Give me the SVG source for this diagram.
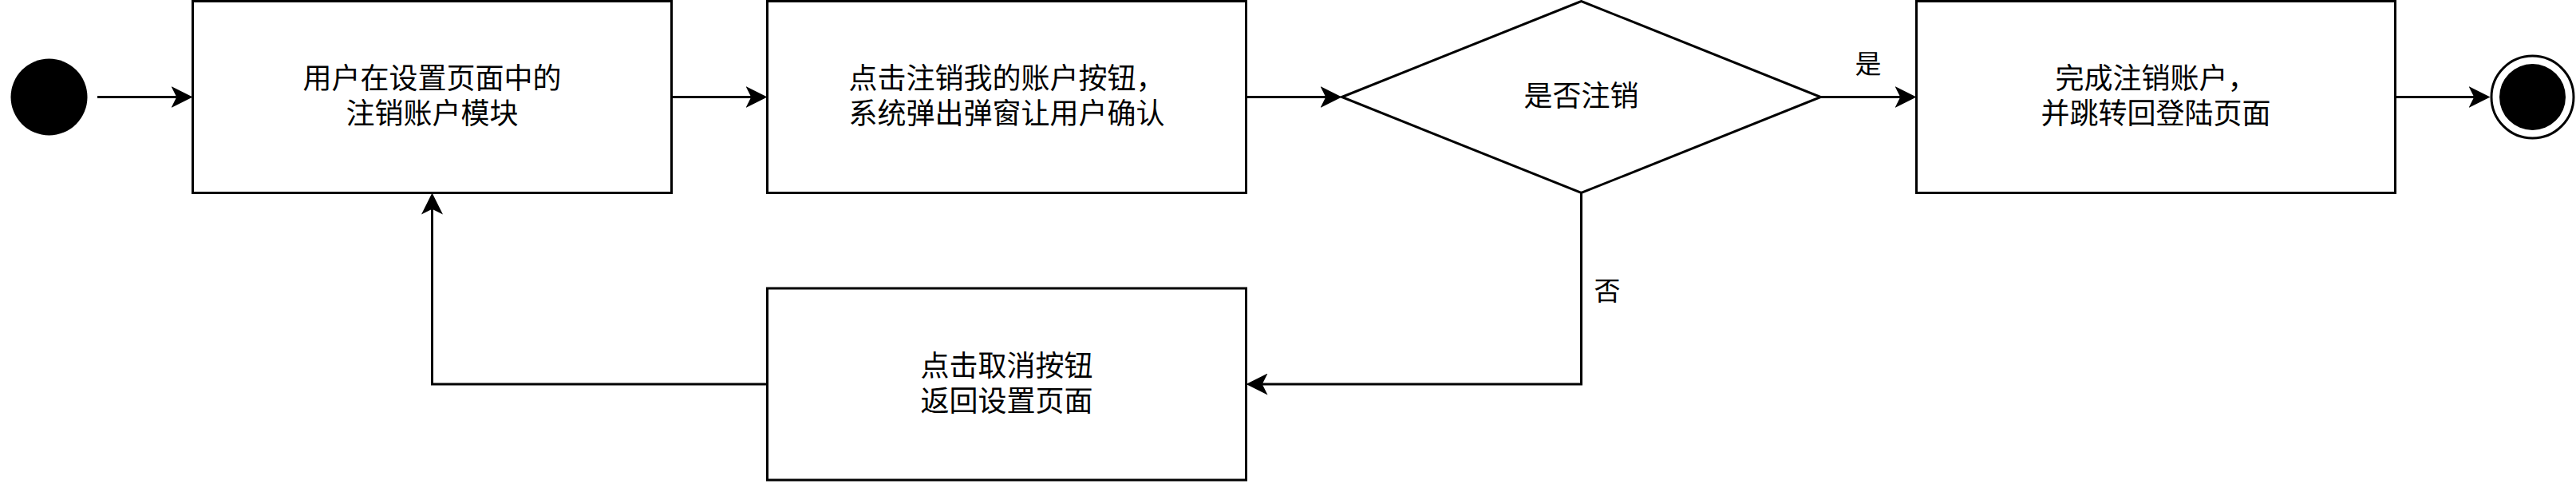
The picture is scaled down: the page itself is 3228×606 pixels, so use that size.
<svg xmlns="http://www.w3.org/2000/svg" width="3228" height="606" viewBox="0 0 3228 606">
  <style>
    .box { fill: #ffffff; stroke: #000000; stroke-width: 3; }
    .txt { font-family: "Noto Sans CJK SC", "Noto Sans", sans-serif; font-size: 36px; fill: #000000; text-anchor: middle; }
    .lbl { font-family: "Noto Sans CJK SC", "Noto Sans", sans-serif; font-size: 33px; fill: #000000; text-anchor: middle; }
    .edge { fill: none; stroke: #000000; stroke-width: 3; marker-end: url(#arrow); }
  </style>
  <defs>
    <marker id="arrow" markerUnits="userSpaceOnUse" viewBox="0 0 27 27" markerWidth="27" markerHeight="27" refX="7" refY="13.5" orient="auto">
      <path d="M27,13.5 L0,0 L6.75,13.5 L0,27 Z" fill="#000000"/>
    </marker>
  </defs>
  <rect x="0" y="0" width="3228" height="606" fill="#ffffff"/>

  <g id="start">
    <circle cx="61.5" cy="121.5" r="48" fill="#000000"/>
  </g>

  <g id="box1">
    <rect class="box" x="241.5" y="1.5" width="600" height="240"/>
    <text class="txt"><tspan x="541.5" y="111">用户在设置页面中的</tspan><tspan x="541.5" y="155">注销账户模块</tspan></text>
  </g>

  <g id="box2">
    <rect class="box" x="961.5" y="1.5" width="600" height="240"/>
    <text class="txt"><tspan x="1261.5" y="111">点击注销我的账户按钮，</tspan><tspan x="1261.5" y="155">系统弹出弹窗让用户确认</tspan></text>
  </g>

  <g id="decision">
    <polygon class="box" points="1681.5,121.5 1981.5,1.5 2281.5,121.5 1981.5,241.5"/>
    <text class="txt" x="1981.5" y="133">是否注销</text>
  </g>

  <g id="box4">
    <rect class="box" x="2401.5" y="1.5" width="600" height="240"/>
    <text class="txt"><tspan x="2701.5" y="111">完成注销账户，</tspan><tspan x="2701.5" y="155">并跳转回登陆页面</tspan></text>
  </g>

  <g id="box3">
    <rect class="box" x="961.5" y="361" width="600" height="240"/>
    <text class="txt"><tspan x="1261.5" y="470.5">点击取消按钮</tspan><tspan x="1261.5" y="514.5">返回设置页面</tspan></text>
  </g>

  <g id="end">
    <circle cx="3173.5" cy="121.5" r="51.5" fill="#ffffff" stroke="#000000" stroke-width="3"/>
    <circle cx="3173.5" cy="121.5" r="41.5" fill="#000000"/>
  </g>

  <g id="connectors">
    <path class="edge" d="M122,121.5 H221.5"/>
    <path class="edge" d="M841.5,121.5 H941.5"/>
    <path class="edge" d="M1561.5,121.5 H1661.5"/>
    <path class="edge" d="M2281.5,121.5 H2381.5"/>
    <path class="edge" d="M3001.5,121.5 H3100.5"/>
    <path class="edge" d="M1981.5,241.5 V481 H1581.5"/>
    <path class="edge" d="M961.5,481 H541.5 V261.5"/>
    <text class="lbl" x="2341" y="92">是</text>
    <text class="lbl" x="2014" y="376">否</text>
  </g>
</svg>
